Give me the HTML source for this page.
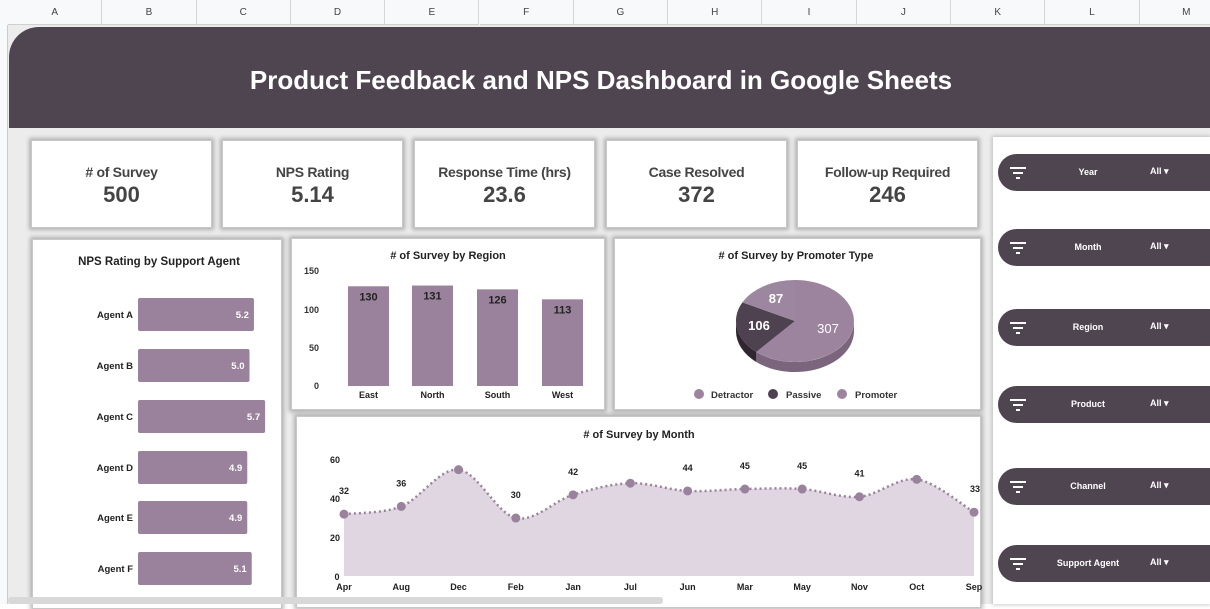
<!DOCTYPE html>
<html><head><meta charset="utf-8"><style>
*{margin:0;padding:0;box-sizing:border-box}
body{width:1210px;height:604px;overflow:hidden;background:#fff;font-family:"Liberation Sans",Arial,sans-serif;position:relative}
.abs{position:absolute}
.colh{position:absolute;top:0;height:25px;border-right:1px solid #d6d6d6;border-bottom:1px solid #cfcfcf;background:#f8f9fa;font-size:10px;color:#444;text-align:center;line-height:25px}
.card{position:absolute;background:#fff;box-shadow:0 0 4px 2px rgba(0,0,0,.25);border:1px solid #c8c8c8}
.kpi .t{position:absolute;top:23px;width:100%;text-align:center;font-size:14px;font-weight:bold;color:#444;letter-spacing:-0.3px}
.kpi .v{position:absolute;top:41px;width:100%;text-align:center;font-size:22px;font-weight:bold;color:#444}
.pill{position:absolute;left:998px;width:230px;height:37px;border-radius:19px;background:#4f4550;color:#fff;font-size:9px;font-weight:bold}
.pill .n{position:absolute;left:50px;width:80px;text-align:center;top:13px;white-space:nowrap}
.pill .a{position:absolute;left:152px;top:12px}
.pill .ic{position:absolute;left:12px;top:12px}
</style></head><body>
<div class="abs" style="left:0;top:0;width:8px;height:604px;background:#f8f9fa;border-right:1px solid #ccc"></div>
<div class="abs" style="left:0;top:0;width:1210px;height:25px;background:#f8f9fa"></div>
<div id="cols"></div>
<div class="abs" style="left:8px;top:25px;width:1202px;height:579px;background:#ececec"></div>
<div class="abs" style="left:9px;top:27px;width:1201px;height:101px;background:#4f4550;border-top-left-radius:30px"></div>
<div class="abs" style="left:0px;top:65px;width:1202px;text-align:center;color:#fff;font-size:26px;font-weight:bold">Product Feedback and NPS Dashboard in Google Sheets</div>

<div class="card kpi" style="left:31px;top:140px;width:181px;height:88px"><div class="t"># of Survey</div><div class="v">500</div></div>
<div class="card kpi" style="left:222px;top:140px;width:181px;height:88px"><div class="t">NPS Rating</div><div class="v">5.14</div></div>
<div class="card kpi" style="left:414px;top:140px;width:181px;height:88px"><div class="t">Response Time (hrs)</div><div class="v">23.6</div></div>
<div class="card kpi" style="left:606px;top:140px;width:181px;height:88px"><div class="t">Case Resolved</div><div class="v">372</div></div>
<div class="card kpi" style="left:797px;top:140px;width:181px;height:88px"><div class="t">Follow-up Required</div><div class="v">246</div></div>

<div class="abs" style="left:993px;top:137px;width:217px;height:467px;background:#fff;box-shadow:0 0 4px 1px rgba(0,0,0,.2)"></div>
<div id="pills"></div>

<div class="card" style="left:32px;top:239px;width:250px;height:370px"></div>
<div class="card" style="left:291px;top:238px;width:314px;height:172px"></div>
<div class="card" style="left:614px;top:238px;width:367px;height:172px"></div>
<div class="card" style="left:296px;top:416px;width:685px;height:192px"></div>

<svg class="abs" style="left:0;top:0" width="1210" height="604" font-family="Liberation Sans,Arial,sans-serif" font-weight="bold">
<text x="159" y="265" font-size="11.5" text-anchor="middle" fill="#222">NPS Rating by Support Agent</text>
<g id="agents" font-size="9.5"></g>
<text x="448" y="259" font-size="11" text-anchor="middle" fill="#222"># of Survey by Region</text>
<g font-size="9" fill="#333" text-anchor="end">
<text x="319" y="274">150</text><text x="319" y="313">100</text><text x="319" y="351">50</text><text x="319" y="389">0</text></g>
<g id="region"></g>
<text x="796" y="259" font-size="11" text-anchor="middle" fill="#222"># of Survey by Promoter Type</text>
<path d="M854,321 A59 41 0 0 1 756.3,352 L756.3,362 A59 41 0 0 0 854,331 Z" fill="#7a657c"/>
<path d="M756.3,352 A59 41 0 0 1 736,321 L736,331 A59 41 0 0 0 756.3,362 Z" fill="#2f2630"/>
<path d="M795,321 L795,280 A59 41 0 1 1 756.3,352 Z" fill="#9c849e"/>
<path d="M795,321 L756.3,352 A59 41 0 0 1 742.4,302.4 Z" fill="#4f4250"/>
<path d="M795,321 L742.4,302.4 A59 41 0 0 1 795,280 Z" fill="#9d869f"/>
<text x="776" y="303" font-size="13" fill="#fff" text-anchor="middle">87</text>
<text x="759" y="330" font-size="13" fill="#fff" text-anchor="middle">106</text>
<text x="828" y="333" font-size="13" fill="#fff" font-weight="normal" text-anchor="middle">307</text>
<g font-size="9.5" fill="#333"><circle cx="699" cy="394" r="5" fill="#9c849e"/><text x="711" y="398">Detractor</text>
<circle cx="773" cy="394" r="5" fill="#4f4250"/><text x="786" y="398">Passive</text>
<circle cx="842" cy="394" r="5" fill="#9c849e"/><text x="855" y="398">Promoter</text></g>
<text x="639" y="438" font-size="11" text-anchor="middle" fill="#222"># of Survey by Month</text>
<g font-size="9" fill="#222" text-anchor="middle"><text x="335" y="463">60</text><text x="335" y="502">40</text><text x="335" y="541">20</text><text x="337" y="580">0</text></g>
<g id="month"></g>
</svg>
<div class="abs" style="left:8px;top:597px;width:655px;height:7px;background:#d8d8d8;border-radius:3px"></div>
<script>
var c=document.getElementById('cols'),L="ABCDEFGHIJKLM";
for(var i=0;i<13;i++){c.innerHTML+='<div class="colh" style="left:'+(8+i*94.3)+'px;width:94.3px">'+L[i]+'</div>';}
var p=document.getElementById('pills'),N=["Year","Month","Region","Product","Channel","Support Agent"],Y=[154,229,309,386,468,545];
var ic='<svg class="ic" width="18" height="14"><rect x="0" y="1" width="16" height="2" fill="#fff"/><rect x="3" y="6" width="10" height="2" fill="#fff"/><rect x="6" y="11" width="4" height="2" fill="#fff"/></svg>';
for(i=0;i<6;i++)p.innerHTML+='<div class="pill" style="top:'+Y[i]+'px">'+ic+'<div class="n">'+N[i]+'</div><div class="a">All &#9662;</div></div>';
var s='';
var av=[5.2,5.0,5.7,4.9,4.9,5.1],ay=[298,349,400,451,501,552],an="ABCDEF";
for(i=0;i<6;i++){var w=av[i]*22.3;s+='<text x="133" y="'+(ay[i]+20)+'" text-anchor="end" fill="#222">Agent '+an[i]+'</text><rect x="138" y="'+ay[i]+'" width="'+w+'" height="33" rx="2" fill="#9a829c"/><text x="'+(138+w-5)+'" y="'+(ay[i]+20)+'" text-anchor="end" fill="#fff">'+av[i].toFixed(1)+'</text>';}
document.getElementById('agents').innerHTML=s;
s='';var rv=[130,131,126,113],rx=[348,412,477,542],rn=["East","North","South","West"];
for(i=0;i<4;i++){var h=rv[i]*0.767;s+='<rect x="'+rx[i]+'" y="'+(386-h)+'" width="41" height="'+h+'" fill="#9a829c"/><text x="'+(rx[i]+20.5)+'" y="'+(386-h+14)+'" font-size="11" text-anchor="middle" fill="#222">'+rv[i]+'</text><text x="'+(rx[i]+20.5)+'" y="398" font-size="9" text-anchor="middle" fill="#222">'+rn[i]+'</text>';}
document.getElementById('region').innerHTML=s;
var mv=[32,36,55,30,42,48,44,45,45,41,50,33],mn=["Apr","Aug","Dec","Feb","Jan","Jul","Jun","Mar","May","Nov","Oct","Sep"],P=[];
for(i=0;i<12;i++)P.push([344+i*630/11,576-mv[i]*1.933]);
var d='M'+P[0][0]+','+P[0][1];
for(i=0;i<11;i++){var a=P[Math.max(i-1,0)],b=P[i],e=P[i+1],f=P[Math.min(i+2,11)];
d+=' C'+(b[0]+(e[0]-a[0])/6)+','+(b[1]+(e[1]-a[1])/6)+' '+(e[0]-(f[0]-b[0])/6)+','+(e[1]-(f[1]-b[1])/6)+' '+e[0]+','+e[1];}
s='<path d="'+d+' L974,576 L344,576 Z" fill="#e0d6e1"/><path d="'+d+'" fill="none" stroke="#9a829c" stroke-width="2.5" stroke-dasharray="2 3"/>';
for(i=0;i<12;i++){s+='<circle cx="'+P[i][0]+'" cy="'+P[i][1]+'" r="4.5" fill="#9a829c"/>';
s+='<text x="'+P[i][0]+'" y="590" font-size="9" text-anchor="middle" fill="#222">'+mn[i]+'</text>';
if([2,5,10].indexOf(i)<0){s+='<text x="'+(i==11?975:P[i][0])+'" y="'+(P[i][1]-20)+'" font-size="9" text-anchor="middle" fill="#222">'+mv[i]+'</text>';}}
document.getElementById('month').innerHTML=s;
</script>
</body></html>
